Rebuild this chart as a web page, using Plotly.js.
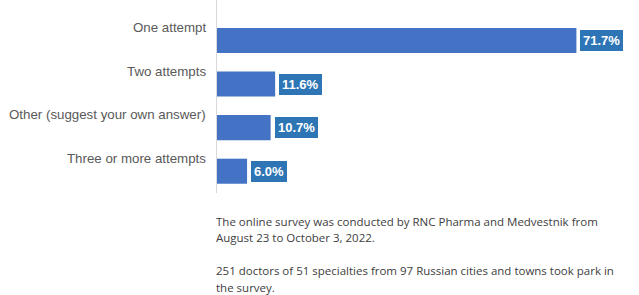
<!DOCTYPE html>
<html><head><meta charset="utf-8">
<script src="https://cdn.plot.ly/plotly-3.0.1.min.js"></script>
<style>html,body{margin:0;padding:0;background:#fff;}#chart{width:639px;height:295px;}</style>
</head><body><div id="chart"></div>
<script>
const categories = ["One attempt", "Two attempts", "Other (suggest your own answer)", "Three or more attempts"];
const values = [71.7, 11.6, 10.7, 6.0];
const valueLabels = ["71.7%", "11.6%", "10.7%", "6.0%"];
const noteLines = [
  "The online survey was conducted by RNC Pharma and Medvestnik from",
  "August 23 to October 3, 2022.",
  "",
  "251 doctors of 51 specialties from 97 Russian cities and towns took park in",
  "the survey."
];

const annotations = [];
categories.forEach((c, i) => {
  annotations.push({
    xref: 'paper', x: 0, y: c, yref: 'y', xanchor: 'right', yanchor: 'middle',
    xshift: -9, yshift: 13, text: c, showarrow: false,
    font: {family: 'Liberation Sans, Arial, sans-serif', size: 13.3, color: '#595959'}
  });
  annotations.push({
    x: values[i], y: c, xanchor: 'left', yanchor: 'middle', xshift: 4,
    text: '<b>' + valueLabels[i] + '</b>', showarrow: false,
    bgcolor: '#2E75B6', borderpad: 3, borderwidth: 0,
    font: {family: 'Liberation Sans, Arial, sans-serif', size: 13, color: '#ffffff'}
  });
});
noteLines.forEach((t, i) => {
  if (!t) return;
  annotations.push({
    xref: 'paper', yref: 'paper', x: 0, y: 0, xanchor: 'left', yanchor: 'middle',
    xshift: -3, yshift: -(28 + i * 16.6), align: 'left', showarrow: false, text: t,
    font: {family: 'Open Sans, sans-serif', size: 11.5, color: '#404040'}
  });
});

Plotly.newPlot('chart', [{
  type: 'bar', orientation: 'h', x: values, y: categories,
  marker: {color: '#4472C4'}, width: 0.575, hoverinfo: 'none'
}], {
  width: 639, height: 295,
  margin: {l: 217, r: 21, t: 0, b: 102},
  paper_bgcolor: '#fff', plot_bgcolor: '#fff',
  showlegend: false,
  xaxis: {range: [0, 80], visible: false, fixedrange: true},
  yaxis: {type: 'category', range: [3.5, -0.93], showticklabels: false, ticks: '',
          showgrid: false, zeroline: false, showline: true, linecolor: '#d9d9d9', linewidth: 1},
  annotations: annotations
}, {staticPlot: true});
</script></body></html>
